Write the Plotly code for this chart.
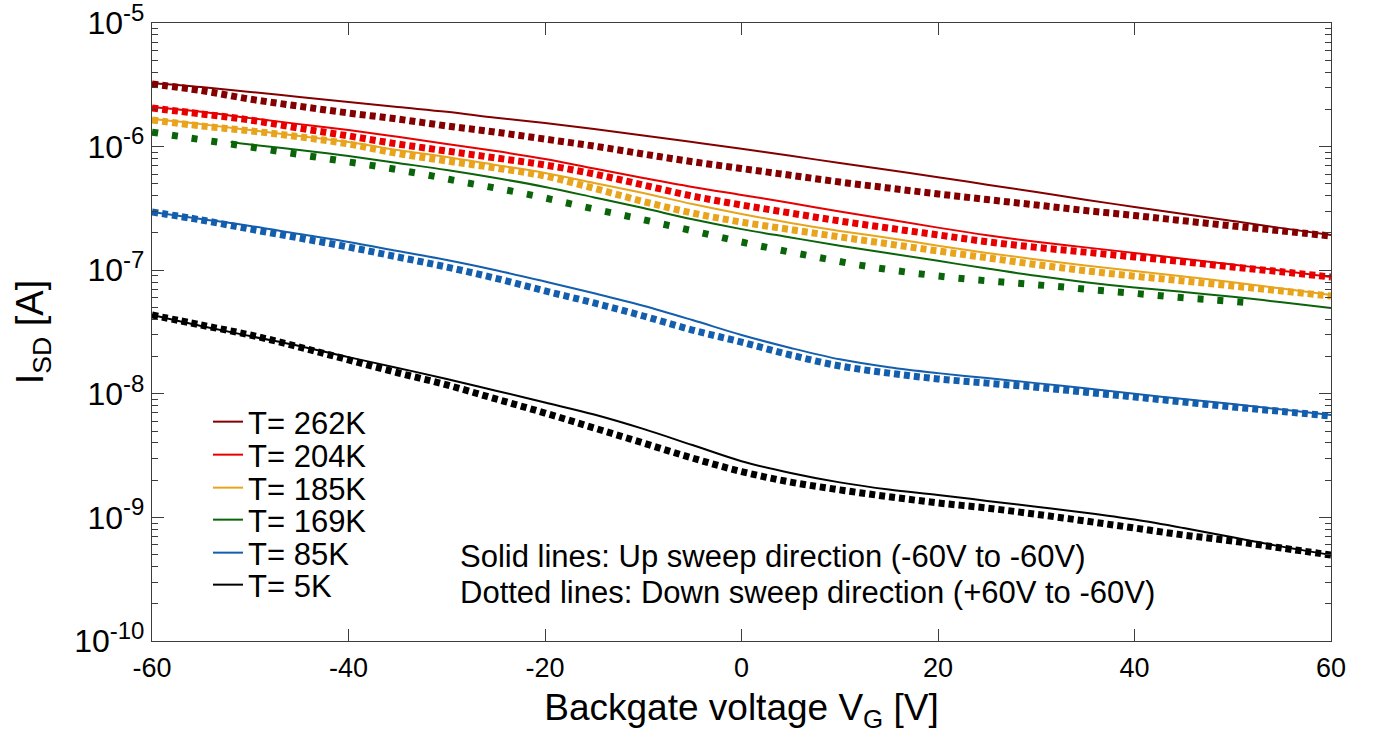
import plotly.graph_objects as go

# ---- data ----
V5 = [-60, -55, -50, -45, -40, -35, -30, -25, -20, -15, -10, -5, 0,
      5, 10, 15, 20, 25, 30, 35, 40, 45, 50, 55, 60]

I_262_up = [3.27e-6, 3.03e-6, 2.77e-6, 2.52e-6, 2.30e-6, 2.09e-6, 1.91e-6, 1.71e-6, 1.55e-6,
            1.39e-6, 1.23e-6, 1.09e-6, 9.60e-7, 8.42e-7, 7.37e-7, 6.47e-7, 5.66e-7, 4.92e-7,
            4.29e-7, 3.72e-7, 3.25e-7, 2.85e-7, 2.50e-7, 2.19e-7, 1.93e-7]
I_262_down = [3.21e-6, 2.84e-6, 2.42e-6, 2.12e-6, 1.87e-6, 1.67e-6, 1.47e-6, 1.31e-6, 1.15e-6,
              1.01e-6, 8.71e-7, 7.55e-7, 6.65e-7, 5.86e-7, 5.17e-7, 4.62e-7, 4.14e-7, 3.73e-7,
              3.37e-7, 3.04e-7, 2.77e-7, 2.51e-7, 2.28e-7, 2.08e-7, 1.89e-7]

I_204_up = [2.09e-6, 1.91e-6, 1.70e-6, 1.52e-6, 1.36e-6, 1.20e-6, 1.05e-6, 9.21e-7, 7.94e-7,
            6.65e-7, 5.57e-7, 4.71e-7, 4.06e-7, 3.50e-7, 2.98e-7, 2.57e-7, 2.21e-7, 1.92e-7,
            1.70e-7, 1.53e-7, 1.38e-7, 1.24e-7, 1.11e-7, 9.90e-8, 8.81e-8]
I_204_down = [2.05e-6, 1.84e-6, 1.64e-6, 1.41e-6, 1.22e-6, 1.05e-6, 9.21e-7, 8.09e-7, 7.10e-7,
              6.00e-7, 4.89e-7, 3.98e-7, 3.37e-7, 2.90e-7, 2.50e-7, 2.19e-7, 1.93e-7, 1.70e-7,
              1.53e-7, 1.40e-7, 1.28e-7, 1.17e-7, 1.06e-7, 9.70e-8, 8.81e-8]

I_185_up = [1.67e-6, 1.52e-6, 1.36e-6, 1.22e-6, 1.09e-6, 9.39e-7, 8.24e-7, 7.10e-7, 6.12e-7,
            5.08e-7, 4.21e-7, 3.43e-7, 2.85e-7, 2.41e-7, 2.08e-7, 1.82e-7, 1.58e-7, 1.38e-7,
            1.22e-7, 1.09e-7, 9.85e-8, 8.90e-8, 8.00e-8, 7.10e-8, 6.30e-8]
I_185_down = [1.64e-6, 1.47e-6, 1.34e-6, 1.20e-6, 1.05e-6, 8.80e-7, 7.65e-7, 6.71e-7, 5.78e-7,
              4.60e-7, 3.60e-7, 2.90e-7, 2.45e-7, 2.13e-7, 1.86e-7, 1.63e-7, 1.43e-7, 1.26e-7,
              1.11e-7, 9.90e-8, 8.95e-8, 8.18e-8, 7.45e-8, 6.79e-8, 6.18e-8]

V_169_up = [-52, -50, -45, -40, -35, -30, -25, -20, -15, -10, -5, 0,
            5, 10, 15, 20, 25, 30, 35, 40, 45, 50, 55, 60]
I_169_up = [1.09e-6, 1.04e-6, 9.39e-7, 8.39e-7, 7.37e-7, 6.47e-7, 5.57e-7, 4.71e-7, 3.88e-7,
            3.18e-7, 2.58e-7, 2.15e-7, 1.84e-7, 1.58e-7, 1.37e-7, 1.19e-7, 1.03e-7, 9.00e-8,
            8.00e-8, 7.24e-8, 6.66e-8, 6.10e-8, 5.50e-8, 4.94e-8]
V_169_down = [-60, -56, -52, -48, -44, -40, -36, -32, -28, -24, -20, -16, -12, -8, -4, 0,
              4, 8, 12, 16, 20, 24, 28, 32, 36, 40, 44, 48, 52]
I_169_down = [1.31e-6, 1.17e-6, 1.05e-6, 9.39e-7, 8.39e-7, 7.51e-7, 6.71e-7, 5.89e-7, 5.10e-7,
              4.46e-7, 3.84e-7, 3.25e-7, 2.78e-7, 2.36e-7, 2.00e-7, 1.69e-7, 1.45e-7, 1.26e-7,
              1.10e-7, 9.85e-8, 8.98e-8, 8.33e-8, 7.85e-8, 7.40e-8, 6.91e-8, 6.50e-8, 6.07e-8,
              5.74e-8, 5.43e-8]

I_85_up = [2.96e-7, 2.60e-7, 2.28e-7, 1.96e-7, 1.69e-7, 1.43e-7, 1.21e-7, 1.00e-7, 8.10e-8,
           6.50e-8, 5.15e-8, 3.95e-8, 2.99e-8, 2.35e-8, 1.90e-8, 1.64e-8, 1.47e-8, 1.34e-8,
           1.22e-8, 1.11e-8, 1.00e-8, 9.08e-9, 8.27e-9, 7.45e-9, 6.74e-9]
I_85_down = [2.96e-7, 2.55e-7, 2.15e-7, 1.82e-7, 1.54e-7, 1.28e-7, 1.06e-7, 8.60e-8, 6.80e-8,
             5.43e-8, 4.26e-8, 3.28e-8, 2.62e-8, 2.06e-8, 1.68e-8, 1.47e-8, 1.32e-8, 1.22e-8,
             1.13e-8, 1.03e-8, 9.42e-9, 8.58e-9, 7.82e-9, 7.20e-9, 6.61e-9]

I_5_up = [4.34e-8, 3.54e-8, 2.93e-8, 2.44e-8, 1.98e-8, 1.62e-8, 1.32e-8, 1.06e-8, 8.50e-9,
          6.80e-9, 5.20e-9, 3.85e-9, 2.85e-9, 2.29e-9, 1.92e-9, 1.68e-9, 1.52e-9, 1.36e-9,
          1.22e-9, 1.09e-9, 9.60e-10, 8.20e-10, 6.90e-10, 5.80e-10, 4.96e-10]
I_5_down = [4.34e-8, 3.60e-8, 2.99e-8, 2.39e-8, 1.88e-8, 1.48e-8, 1.18e-8, 9.08e-9, 6.99e-9,
            5.29e-9, 4.00e-9, 3.02e-9, 2.35e-9, 1.93e-9, 1.67e-9, 1.47e-9, 1.31e-9, 1.19e-9,
            1.06e-9, 9.35e-10, 8.21e-10, 7.20e-10, 6.44e-10, 5.65e-10, 4.96e-10]

labels = ["T= 262K", "T= 204K", "T= 185K", "T= 169K", "T= 85K", "T= 5K"]
colors = ["#840000", "#E80000", "#E8A41C", "#0A640A", "#135EAD", "#000000"]

up_x = [V5, V5, V5, V_169_up, V5, V5]
up_y = [I_262_up, I_204_up, I_185_up, I_169_up, I_85_up, I_5_up]
down_x = [V5, V5, V5, V_169_down, V5, V5]
down_y = [I_262_down, I_204_down, I_185_down, I_169_down, I_85_down, I_5_down]
down_dash = ["6px,4px", "6px,4px", "6px,4px", "6px,14px", "6px,4px", "6px,4px"]

y_tickvals = [1e-10, 1e-9, 1e-8, 1e-7, 1e-6, 1e-5]
y_exps = ["-10", "-9", "-8", "-7", "-6", "-5"]
x_tickvals = [-60, -40, -20, 0, 20, 40, 60]
x_ticktext = ["-60", "-40", "-20", "0", "20", "40", "60"]

FONT = "Liberation Sans, Arial, sans-serif"
SUP = "<sup><span style='font-size:24px'>{}</span></sup>"
y_ticktext = ["10" + SUP.format(e) for e in y_exps]

fig = go.Figure()

# dotted (down sweep) first, underneath
for i in range(6):
    fig.add_trace(go.Scatter(
        x=down_x[i], y=down_y[i], mode="lines",
        line=dict(color=colors[i], width=7, dash=down_dash[i], shape="spline", smoothing=1.0),
        showlegend=False, hoverinfo="skip"))

# solid (up sweep), each in its own legend row
legend_names = ["legend", "legend2", "legend3", "legend4", "legend5", "legend6"]
for i in range(6):
    fig.add_trace(go.Scatter(
        x=up_x[i], y=up_y[i], mode="lines", name=labels[i], legend=legend_names[i],
        line=dict(color=colors[i], width=2, shape="spline", smoothing=1.0)))

minor_vals = []
for e in range(-10, -5):
    for k in range(2, 10):
        minor_vals.append(k * 10.0 ** e)

axis_col = "#3c3c3c"
FIG_W, FIG_H = 1374, 742
PLOT_L, PLOT_R, PLOT_T, PLOT_B = 152, 1331, 23, 641
row_y = [422, 455, 488, 520, 553, 585]

def px(x):
    return (x - PLOT_L) / (PLOT_R - PLOT_L)

def py(y):
    return (PLOT_B - y) / (PLOT_B - PLOT_T)

legend_layout = {}
for i, name in enumerate(legend_names):
    legend_layout[name] = dict(
        x=px(208), y=py(row_y[i]),
        xanchor="left", yanchor="middle", bgcolor="rgba(0,0,0,0)",
        font=dict(size=31, family=FONT, color="black"), itemwidth=30)

fig.update_layout(
    width=FIG_W, height=FIG_H,
    margin=dict(l=PLOT_L, r=FIG_W - PLOT_R, t=PLOT_T, b=FIG_H - PLOT_B, autoexpand=False),
    paper_bgcolor="white", plot_bgcolor="white",
    font=dict(family=FONT, color="black"),
    showlegend=True,
    xaxis=dict(range=[-60, 60], tickvals=x_tickvals, ticktext=x_ticktext, ticks="inside",
               ticklen=12, tickcolor=axis_col, showline=True, linecolor=axis_col,
               linewidth=1.3, mirror="ticks", showgrid=False, zeroline=False,
               automargin=False, tickfont=dict(size=27, family=FONT), ticklabelstandoff=2,
               ticklabeloverflow="allow",
               title=dict(text="Backgate voltage V<sub>G</sub> [V]",
                          font=dict(size=37, family=FONT), standoff=12)),
    yaxis=dict(type="log", range=[-10, -5], tickvals=y_tickvals, ticktext=y_ticktext,
               ticks="inside", ticklen=12, tickcolor=axis_col, showline=True,
               linecolor=axis_col, linewidth=1.3, mirror="ticks", showgrid=False,
               zeroline=False, automargin=False, tickfont=dict(size=32, family=FONT),
               ticklabeloverflow="allow",
               minor=dict(tickvals=minor_vals, ticks="inside", ticklen=6,
                          tickcolor=axis_col, showgrid=False),
               title=dict(text="I<sub>SD</sub> [A]", font=dict(size=38, family=FONT),
                          standoff=18)),
    **legend_layout,
)

fig.add_annotation(xref="paper", yref="paper", x=px(458), y=py(556), xanchor="left",
                   yanchor="middle", showarrow=False,
                   text="Solid lines: Up sweep direction (-60V to -60V)",
                   font=dict(size=31, family=FONT, color="black"))
fig.add_annotation(xref="paper", yref="paper", x=px(458), y=py(592), xanchor="left",
                   yanchor="middle", showarrow=False,
                   text="Dotted lines: Down sweep direction (+60V to -60V)",
                   font=dict(size=31, family=FONT, color="black"))

# remove the default 8px page margin so the figure fills the window exactly
fig.write_html("out.html", config={"displayModeBar": False},
               post_script="document.body.style.margin='0';")
